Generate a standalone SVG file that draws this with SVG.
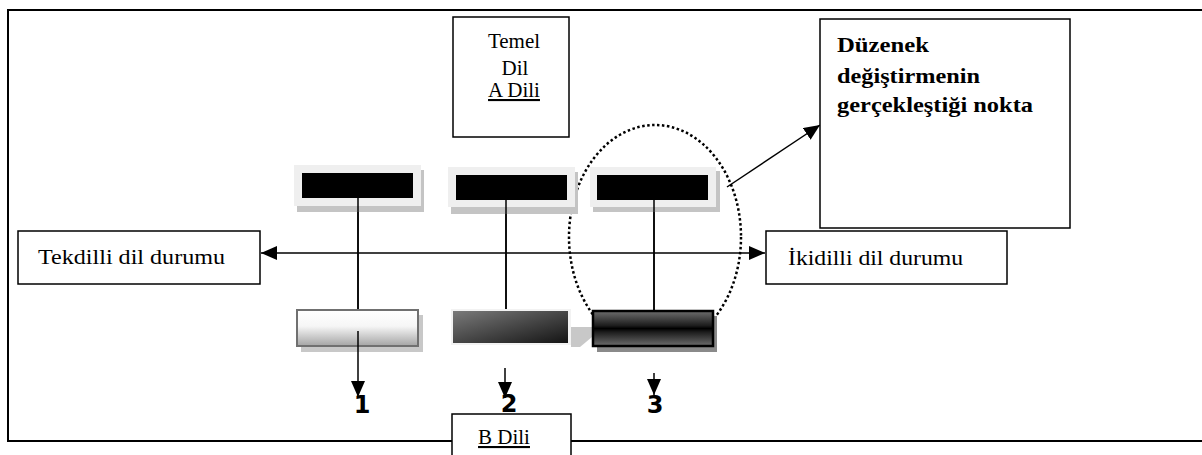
<svg xmlns="http://www.w3.org/2000/svg" width="1202" height="455" viewBox="0 0 1202 455">
<style>
.box{fill:#fff;stroke:#000;stroke-width:1.5}
.t{font-family:"Liberation Serif","Times New Roman",serif;font-size:21px;fill:#000}
.tb{font-family:"Liberation Serif","Times New Roman",serif;font-size:21px;font-weight:bold;fill:#000}
.num{font-family:"DejaVu Sans",sans-serif;font-size:24px;font-weight:bold;fill:#000;text-anchor:middle}
.ln{stroke:#000;stroke-width:1.5;fill:none}
.frame{fill:#efefef}
.shadow{fill:#c4c4c4}
.bar{fill:#000}
</style>
<defs>
<marker id="ah" viewBox="0 0 16 14" refX="16" refY="7" markerWidth="16" markerHeight="14" markerUnits="userSpaceOnUse" orient="auto-start-reverse">
<path d="M0,0 L16,7 L0,14 z" fill="#000"/>
</marker>
<linearGradient id="g1" x1="0" y1="0" x2="0" y2="1">
<stop offset="0" stop-color="#ffffff"/>
<stop offset="0.45" stop-color="#f6f6f6"/>
<stop offset="1" stop-color="#a4a4a4"/>
</linearGradient>
<linearGradient id="g2" x1="0" y1="0" x2="1" y2="1">
<stop offset="0" stop-color="#7a7a7a"/>
<stop offset="1" stop-color="#141414"/>
</linearGradient>
<linearGradient id="g3" x1="0" y1="0" x2="0" y2="1">
<stop offset="0" stop-color="#6e6e6e"/>
<stop offset="0.42" stop-color="#1c1c1c"/>
<stop offset="0.5" stop-color="#000"/>
<stop offset="0.6" stop-color="#1c1c1c"/>
<stop offset="1" stop-color="#6e6e6e"/>
</linearGradient>
</defs>

<rect width="1202" height="455" fill="#fff"/>

<g id="frame">
<path d="M1202,10 L8,10 L8,441 L1202,441" fill="none" stroke="#000" stroke-width="2"/>
</g>

<g id="ellipse">
<ellipse cx="655" cy="237" rx="86" ry="112" fill="none" stroke="#000" stroke-width="2.5" stroke-dasharray="2.5 2.5"/>
</g>

<g id="connectors">
<line class="ln" x1="358" y1="200" x2="358" y2="311"/>
<line class="ln" x1="506" y1="200" x2="506" y2="310"/>
<line class="ln" x1="654" y1="200" x2="654" y2="312"/>
<line class="ln" x1="261" y1="253" x2="765" y2="253" marker-start="url(#ah)" marker-end="url(#ah)"/>
<line class="ln" x1="727" y1="187" x2="820" y2="125" marker-end="url(#ah)"/>
</g>

<g id="bar1">
<rect class="shadow" x="297" y="170" width="127" height="42"/>
<rect class="frame" x="294" y="165" width="127" height="41"/>
<rect class="bar" x="302" y="173" width="111" height="25"/>
</g>
<g id="bar2">
<rect class="shadow" x="451" y="172" width="127" height="42"/>
<rect class="frame" x="448" y="167" width="127" height="40"/>
<rect class="bar" x="456" y="175" width="111" height="25"/>
</g>
<g id="bar3">
<rect class="shadow" x="593" y="171" width="127" height="41"/>
<rect class="frame" x="590" y="167" width="126" height="40"/>
<rect class="bar" x="597" y="175" width="111" height="25"/>
</g>
<g id="vlines">
<line class="ln" x1="358" y1="198" x2="358" y2="311"/>
<line class="ln" x1="506" y1="200" x2="506" y2="310"/>
<line class="ln" x1="654" y1="200" x2="654" y2="312"/>
</g>

<g id="box1">
<rect x="301" y="315" width="122" height="37" fill="#c8c8c8"/>
<rect x="297" y="310" width="121" height="36" fill="url(#g1)" stroke="#707070" stroke-width="2"/>
</g>
<g id="box2">
<polygon points="571,327 604,327 580,347 571,347" fill="#c8c8c8"/>
<rect x="451" y="309" width="120" height="36" fill="#f2f2f2"/>
<rect x="453" y="311" width="115" height="32" fill="url(#g2)"/>
</g>
<g id="box3">
<rect x="597" y="316" width="120" height="36" fill="#8a8a8a"/>
<rect x="593" y="311" width="120" height="35" fill="url(#g3)" stroke="#000" stroke-width="2.5"/>
</g>

<g id="arrows-bottom">
<line class="ln" x1="358" y1="331" x2="358" y2="397" marker-end="url(#ah)"/>
<line class="ln" x1="505" y1="368" x2="505" y2="398" marker-end="url(#ah)"/>
<line class="ln" x1="654" y1="373" x2="654" y2="395" marker-end="url(#ah)"/>
</g>

<g id="labels">
<text class="num" x="362" y="413">1</text>
<text class="num" x="509" y="412">2</text>
<text class="num" x="655" y="413">3</text>
</g>

<g id="temel">
<rect class="box" x="453" y="17" width="116" height="120"/>
<text class="t" x="514" y="48" text-anchor="middle">Temel</text>
<text class="t" x="515" y="75" text-anchor="middle">Dil</text>
<text class="t" x="514" y="97" text-anchor="middle" text-decoration="underline">A Dili</text>
</g>

<g id="duzenek">
<rect class="box" x="820" y="19" width="250" height="209"/>
<text class="tb" x="837" y="52" textLength="92" lengthAdjust="spacingAndGlyphs">Düzenek</text>
<text class="tb" x="837" y="83" textLength="143" lengthAdjust="spacingAndGlyphs">değiştirmenin</text>
<text class="tb" x="837" y="112" textLength="196" lengthAdjust="spacingAndGlyphs">gerçekleştiği nokta</text>
</g>

<g id="tekdilli">
<rect class="box" x="18" y="231" width="242" height="53"/>
<text class="t" x="38" y="264" textLength="187" lengthAdjust="spacingAndGlyphs">Tekdilli dil durumu</text>
</g>

<g id="ikidilli">
<rect class="box" x="766" y="231" width="241" height="53"/>
<text class="t" x="788" y="265" textLength="175" lengthAdjust="spacingAndGlyphs">İkidilli dil durumu</text>
</g>

<g id="bdili">
<rect class="box" x="452" y="414" width="119" height="50"/>
<text class="t" x="504" y="444" text-anchor="middle" text-decoration="underline">B Dili</text>
</g>
</svg>
